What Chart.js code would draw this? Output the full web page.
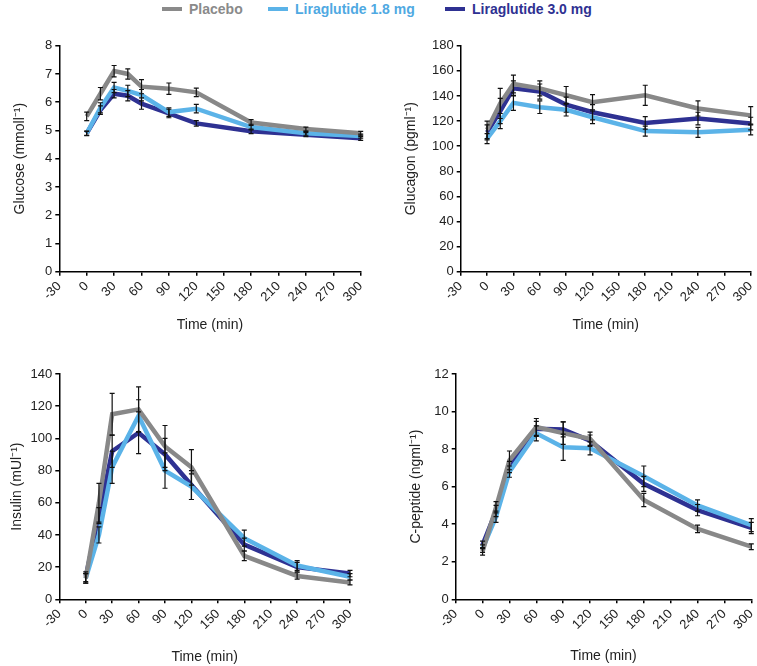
<!DOCTYPE html>
<html>
<head>
<meta charset="utf-8">
<script src="https://cdn.jsdelivr.net/npm/chart.js@4.4.0/dist/chart.umd.min.js"></script>
<style>
  body { margin: 0; background: #fff; width: 757px; height: 666px; position: relative; overflow: hidden; font-family: "Liberation Sans", Arial, sans-serif; }
  canvas { position: absolute; }
  .leg { position: absolute; top: 0; height: 18px; line-height: 18px; font-weight: bold; font-size: 14px; white-space: nowrap; }
  .leg span.mark { display: inline-block; width: 20px; height: 4px; vertical-align: middle; margin-right: 7px; position: relative; top: -1px; }
</style>
</head>
<body>
<div class="leg" style="left:162px;color:#8a8a8a"><span class="mark" style="background:#8a8a8a"></span>Placebo</div>
<div class="leg" style="left:268px;color:#4fa9e2"><span class="mark" style="background:#5bb3e8"></span>Liraglutide 1.8 mg</div>
<div class="leg" style="left:445px;color:#2e3192"><span class="mark" style="background:#2e3192"></span>Liraglutide 3.0 mg</div>

<canvas id="glucoseChart" width="378" height="310" style="left:0;top:30px"></canvas>
<canvas id="glucagonChart" width="379" height="310" style="left:378px;top:30px"></canvas>
<canvas id="insulinChart" width="378" height="326" style="left:0;top:340px"></canvas>
<canvas id="cpeptideChart" width="379" height="326" style="left:378px;top:340px"></canvas>

<script>
// x axis tick labels (min)
const timeTicks = [-30, 0, 30, 60, 90, 120, 150, 180, 210, 240, 270, 300];

// Glucose (mmol/l)
const glucoseTime = [0, 15, 30, 45, 60, 90, 120, 180, 240, 300];
const glucosePlacebo = [5.5, 6.3, 7.1, 7.0, 6.55, 6.48, 6.35, 5.28, 5.05, 4.9];
const glucoseLira18 = [4.9, 5.8, 6.52, 6.4, 6.25, 5.65, 5.77, 5.12, 4.9, 4.8];
const glucoseLira30 = [4.9, 5.72, 6.3, 6.23, 5.95, 5.6, 5.25, 4.97, 4.85, 4.72];
const glucoseErrPlacebo = [0.15, 0.22, 0.2, 0.18, 0.25, 0.2, 0.15, 0.1, 0.07, 0.07];
const glucoseErrLira18 = [0.08, 0.18, 0.18, 0.2, 0.2, 0.15, 0.15, 0.1, 0.07, 0.07];
const glucoseErrLira30 = [0.07, 0.15, 0.15, 0.18, 0.2, 0.15, 0.1, 0.08, 0.07, 0.07];
const glucoseTicks = [0, 1, 2, 3, 4, 5, 6, 7, 8];

// Glucagon (pg/ml)
const glucagonTime = [0, 15, 30, 60, 90, 120, 180, 240, 300];
const glucagonPlacebo = [113, 134, 149.5, 146, 140.5, 135, 140.5, 130, 124.5];
const glucagonLira18 = [106, 120, 134.5, 131, 129, 123, 112, 111, 113];
const glucagonLira30 = [111, 128, 146, 143.5, 133, 127, 118.5, 122, 118];
const glucagonErrPlacebo = [7, 12, 7, 6, 7, 6, 8, 6, 7];
const glucagonErrLira18 = [4, 6, 6, 5, 5, 5, 4, 4, 4];
const glucagonErrLira30 = [6, 10, 6, 6, 6, 6, 5, 5, 5];
const glucagonTicks = [0, 20, 40, 60, 80, 100, 120, 140, 160, 180];

// Insulin (mU/l)
const insulinTime = [0, 15, 30, 60, 90, 120, 180, 240, 300];
const insulinPlacebo = [13, 60, 115, 118, 95, 82, 27, 14.5, 10.5];
const insulinLira18 = [13, 40, 82, 114, 80, 70, 38, 21, 14];
const insulinLira30 = [14, 52, 92, 103.5, 90, 71, 34, 20, 16];
const insulinErrPlacebo = [3, 12, 13, 14, 13, 11, 3, 2, 1.5];
const insulinErrLira18 = [3, 5, 10, 10, 11, 8, 5, 3, 2];
const insulinErrLira30 = [3, 5, 10, 13, 10, 9, 4, 3, 2];
const insulinTicks = [0, 20, 40, 60, 80, 100, 120, 140];

// C-peptide (ng/ml)
const cpeptideTime = [0, 15, 30, 60, 90, 120, 180, 240, 300];
const cpeptidePlacebo = [2.55, 4.9, 7.4, 9.18, 8.85, 8.55, 5.29, 3.75, 2.8];
const cpeptideLira18 = [2.7, 4.4, 6.8, 8.84, 8.1, 8.04, 6.55, 5.0, 3.95];
const cpeptideLira30 = [2.9, 4.7, 7.05, 9.08, 9.05, 8.45, 6.15, 4.75, 3.8];
const cpeptideErrPlacebo = [0.2, 0.3, 0.5, 0.45, 0.6, 0.35, 0.35, 0.2, 0.15];
const cpeptideErrLira18 = [0.2, 0.3, 0.3, 0.4, 0.7, 0.35, 0.55, 0.3, 0.35];
const cpeptideErrLira30 = [0.2, 0.3, 0.3, 0.4, 0.4, 0.3, 0.4, 0.3, 0.3];
const cpeptideTicks = [0, 2, 4, 6, 8, 10, 12];

const seriesNames = ['Placebo', 'Liraglutide 1.8 mg', 'Liraglutide 3.0 mg'];
const seriesColors = ['#888888', '#5bb3e8', '#2e3192'];

const FONT = '"Liberation Sans", Arial, sans-serif';

// draws SE bars from each dataset's errors array
const errorBars = {
    id: 'errorBars',
    afterDatasetsDraw(chart) {
        const ctx = chart.ctx;
        const xs = chart.scales.x, ys = chart.scales.y;
        ctx.save();
        ctx.strokeStyle = '#111';
        ctx.lineWidth = 1.2;
        chart.data.datasets.forEach(ds => {
            ds.data.forEach((p, i) => {
                const e = ds.errors[i];
                const x = xs.getPixelForValue(p.x);
                const y1 = ys.getPixelForValue(p.y + e);
                const y2 = ys.getPixelForValue(p.y - e);
                ctx.beginPath();
                ctx.moveTo(x, y1); ctx.lineTo(x, y2);
                ctx.moveTo(x - 2.5, y1); ctx.lineTo(x + 2.5, y1);
                ctx.moveTo(x - 2.5, y2); ctx.lineTo(x + 2.5, y2);
                ctx.stroke();
            });
        });
        ctx.restore();
    }
};

function makePanel(id, box, area, yTitleX, xTitleY, yTitle, time, series, errors, yTicks) {
    const [cl, ct, cw, ch] = box;
    const [aL, aT, aR, aB] = area;
    const yLH = 14 * 1.2, xLH = 14 * 1.2;

    const datasets = series.map((vals, s) => ({
        label: seriesNames[s],
        data: time.map((t, i) => ({ x: t, y: vals[i] })),
        errors: errors[s],
        borderColor: seriesColors[s],
        backgroundColor: seriesColors[s],
        borderWidth: 4.5,
        pointRadius: 0,
        tension: 0,
        fill: false
    }));

    return new Chart(document.getElementById(id), {
        type: 'line',
        data: { datasets },
        options: {
            responsive: false,
            animation: false,
            devicePixelRatio: 1,
            layout: { padding: { left: 0, top: aT - ct, right: cl + cw - aR, bottom: 0 } },
            plugins: { legend: { display: false }, tooltip: { enabled: false } },
            scales: {
                x: {
                    type: 'linear',
                    min: -30, max: 300,
                    afterBuildTicks: sc => { sc.ticks = timeTicks.map(v => ({ value: v })); },
                    afterFit: sc => { sc.height = ch - (aB - ct); sc.paddingLeft = 0; sc.paddingRight = 0; },
                    border: { display: true, color: '#000', width: 1.5 },
                    grid: { drawOnChartArea: false, drawTicks: true, tickLength: 4, color: '#000', lineWidth: 1.5 },
                    ticks: { autoSkip: false, minRotation: 45, maxRotation: 45, padding: 3, color: '#222', font: { family: FONT, size: 13 } },
                    title: { display: true, text: 'Time (min)', color: '#222', font: { family: FONT, size: 14 },
                             padding: { top: 0, bottom: Math.max(0, (ct + ch) - xTitleY - xLH / 2) } }
                },
                y: {
                    min: yTicks[0], max: yTicks[yTicks.length - 1],
                    afterBuildTicks: sc => { sc.ticks = yTicks.map(v => ({ value: v })); },
                    afterFit: sc => { sc.width = aL - cl; sc.paddingTop = 0; sc.paddingBottom = 0; },
                    border: { display: true, color: '#000', width: 1.5 },
                    grid: { drawOnChartArea: false, drawTicks: true, tickLength: 4, color: '#000', lineWidth: 1.5 },
                    ticks: { padding: 3, color: '#222', font: { family: FONT, size: 13 } },
                    title: { display: true, text: yTitle, color: '#222', font: { family: FONT, size: 14 },
                             padding: { top: yTitleX - cl - yLH / 2, bottom: 0 } }
                }
            }
        },
        plugins: [errorBars]
    });
}

makePanel('glucoseChart', [0, 30, 378, 310], [59.3, 45.7, 360.7, 271.7], 20, 325,
    'Glucose (mmoll\u207B\u00B9)', glucoseTime,
    [glucosePlacebo, glucoseLira18, glucoseLira30],
    [glucoseErrPlacebo, glucoseErrLira18, glucoseErrLira30], glucoseTicks);

makePanel('glucagonChart', [378, 30, 379, 310], [460.7, 45.7, 750.7, 271.7], 411, 325,
    'Glucagon (pgml\u207B\u00B9)', glucagonTime,
    [glucagonPlacebo, glucagonLira18, glucagonLira30],
    [glucagonErrPlacebo, glucagonErrLira18, glucagonErrLira30], glucagonTicks);

makePanel('insulinChart', [0, 340, 378, 326], [59.3, 374, 350, 599.3], 17, 657,
    'Insulin (mUl\u207B\u00B9)', insulinTime,
    [insulinPlacebo, insulinLira18, insulinLira30],
    [insulinErrPlacebo, insulinErrLira18, insulinErrLira30], insulinTicks);

makePanel('cpeptideChart', [378, 340, 379, 326], [455.7, 374, 751.3, 599.3], 416, 656,
    'C-peptide (ngml\u207B\u00B9)', cpeptideTime,
    [cpeptidePlacebo, cpeptideLira18, cpeptideLira30],
    [cpeptideErrPlacebo, cpeptideErrLira18, cpeptideErrLira30], cpeptideTicks);
</script>
</body>
</html>
